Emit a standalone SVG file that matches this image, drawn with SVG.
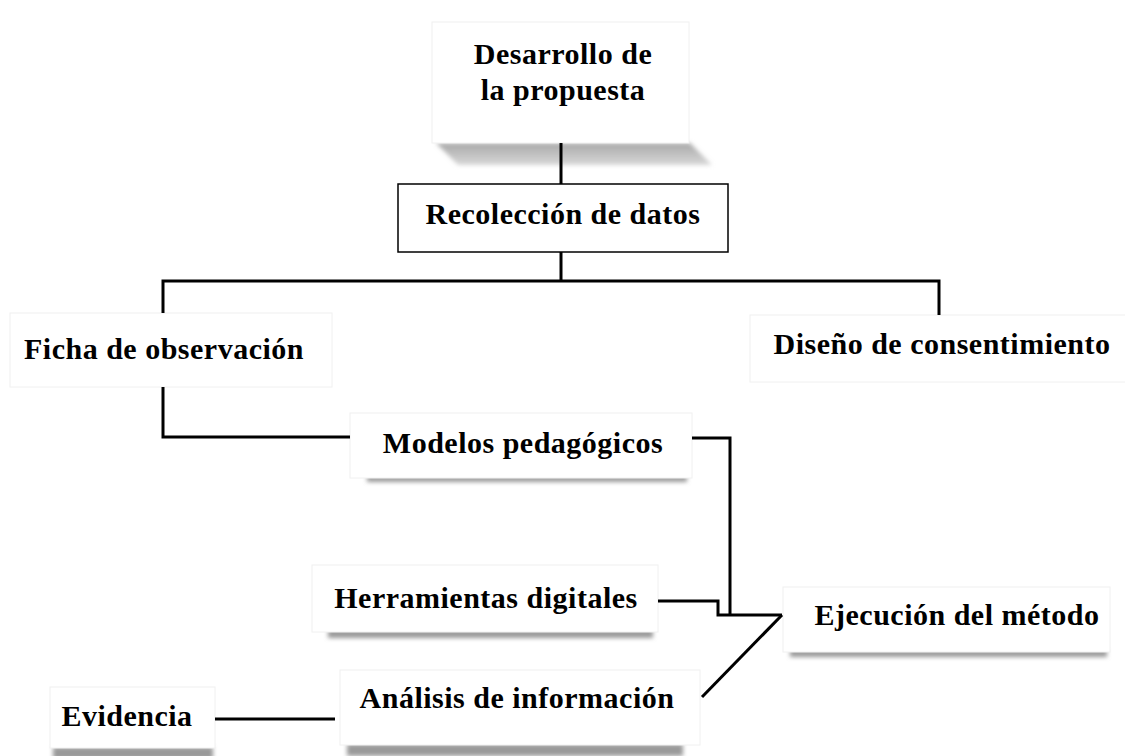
<svg xmlns="http://www.w3.org/2000/svg" width="1125" height="756" viewBox="0 0 1125 756">
<style>
.box{fill:#ffffff;stroke:#f0f0f0;stroke-width:1}
.rbox{fill:#ffffff;stroke:#000000;stroke-width:1.5}
.sh{fill:#9a9a9a;filter:url(#blur)}
.t{font-family:"Liberation Serif","Times New Roman",serif;font-weight:bold;font-size:30px;letter-spacing:0.5px;fill:#000;text-anchor:middle}
.c{fill:none;stroke:#000;stroke-width:3;stroke-linejoin:miter}
</style>
<defs>
<filter id="blur" x="-10%" y="-100%" width="120%" height="300%"><feGaussianBlur stdDeviation="2"/></filter>
<linearGradient id="topsh" x1="0" y1="0" x2="0" y2="1">
<stop offset="0" stop-color="#a8a8a8"/>
<stop offset="1" stop-color="#d8d8d8"/>
</linearGradient>
</defs>
<rect width="1125" height="756" fill="#ffffff"/>
<g id="node-desarrollo">
<polygon points="436,143 690,143 712,165 458,165" fill="url(#topsh)" filter="url(#blur)"/>
<rect class="box" x="432" y="22" width="257" height="121"/>
<text class="t" x="563" y="64">Desarrollo de</text>
<text class="t" x="563" y="100">la propuesta</text>
</g>
<g id="node-recoleccion">
<rect class="rbox" x="398" y="184" width="330" height="68"/>
<text class="t" x="563" y="224">Recolección de datos</text>
</g>
<g id="node-ficha">
<rect class="box" x="10" y="313" width="322" height="74"/>
<text class="t" x="164" y="359">Ficha de observación</text>
</g>
<g id="node-diseno">
<rect class="box" x="750" y="315" width="380" height="67"/>
<text class="t" x="942" y="354">Diseño de consentimiento</text>
</g>
<g id="node-modelos">
<rect class="sh" x="367" y="476" width="320" height="6"/>
<rect class="box" x="350" y="413" width="342" height="65"/>
<text class="t" x="523" y="453">Modelos pedagógicos</text>
</g>
<g id="node-herramientas">
<rect class="sh" x="328" y="630" width="325" height="8"/>
<rect class="box" x="312" y="565" width="346" height="67"/>
<text class="t" x="486" y="608">Herramientas digitales</text>
</g>
<g id="node-ejecucion">
<rect class="sh" x="790" y="650" width="317" height="7"/>
<rect class="box" x="783" y="587" width="327" height="65"/>
<text class="t" x="957" y="625">Ejecución del método</text>
</g>
<g id="node-analisis">
<rect class="sh" x="347" y="744" width="336" height="12"/>
<rect class="box" x="340" y="670" width="360" height="75"/>
<text class="t" x="517" y="708">Análisis de información</text>
</g>
<g id="node-evidencia">
<rect class="sh" x="53" y="747" width="160" height="12"/>
<rect class="box" x="50" y="687" width="165" height="61"/>
<text class="t" x="127" y="726">Evidencia</text>
</g>
<g id="connectors">
<path class="c" d="M561,143 V184"/>
<path class="c" d="M561,252 V281"/>
<path class="c" d="M163,313 V281 H939 V315"/>
<path class="c" d="M163,387 V437 H350"/>
<path class="c" d="M692,438 H730 V615"/>
<path class="c" d="M658,601 H718 V615 H782"/>
<path class="c" d="M702,697 L782,615"/>
<path class="c" d="M215,719 H335"/>
</g>
</svg>
